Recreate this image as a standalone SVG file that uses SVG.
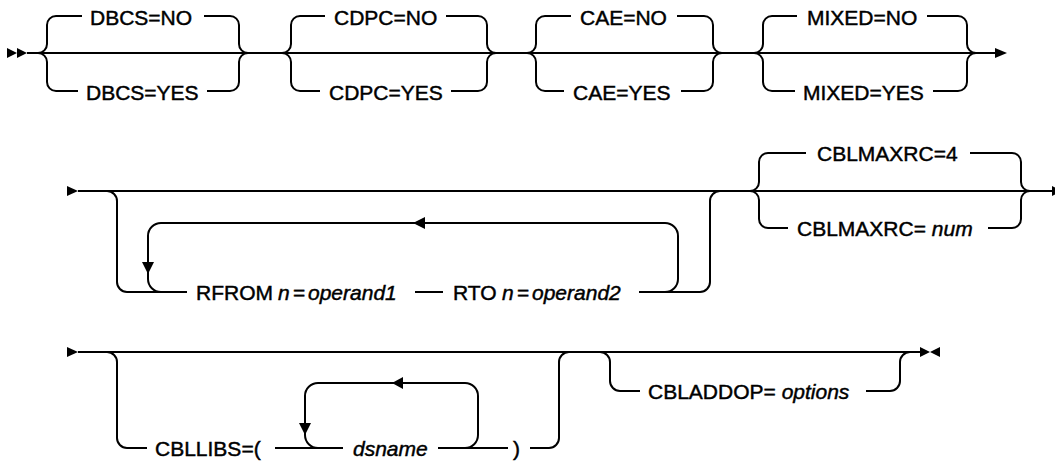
<svg xmlns="http://www.w3.org/2000/svg" width="1055" height="468" viewBox="0 0 1055 468">
<style>
.l{fill:none;stroke:#000;stroke-width:2}
.a{fill:#000;stroke:none}
text{font-family:"Liberation Sans",Arial,Helvetica,sans-serif;font-size:21px;fill:#000;stroke:#000;stroke-width:0.45}
.i{font-style:italic}
</style>
<rect width="1055" height="468" fill="#fff"/>
<g id="connectors">
  <!-- Row 1 -->
  <polygon class="a" points="7,48 17,53 7,58"/>
  <polygon class="a" points="17,48 27,53 17,58"/>
  <path class="l" d="M27 53 H995"/>
  <polygon class="a" points="995,48 1007,53 995,58"/>
  <!-- DBCS brace L=38 R=248 -->
  <path class="l" d="M38 53 A9 9 0 0 0 47 44 V25 A9 9 0 0 1 56 16 H82 M204 16 H230 A9 9 0 0 1 239 25 V44 A9 9 0 0 0 248 53"/>
  <path class="l" d="M38 53 A9 9 0 0 1 47 62 V82 A9 9 0 0 0 56 91 H78 M207 91 H230 A9 9 0 0 0 239 82 V62 A9 9 0 0 1 248 53"/>
  <!-- CDPC brace L=282 R=496 -->
  <path class="l" d="M282 53 A9 9 0 0 0 291 44 V25 A9 9 0 0 1 300 16 H325 M446 16 H478 A9 9 0 0 1 487 25 V44 A9 9 0 0 0 496 53"/>
  <path class="l" d="M282 53 A9 9 0 0 1 291 62 V82 A9 9 0 0 0 300 91 H320 M451 91 H478 A9 9 0 0 0 487 82 V62 A9 9 0 0 1 496 53"/>
  <!-- CAE brace L=527 R=722 -->
  <path class="l" d="M527 53 A9 9 0 0 0 536 44 V25 A9 9 0 0 1 545 16 H571 M677 16 H704 A9 9 0 0 1 713 25 V44 A9 9 0 0 0 722 53"/>
  <path class="l" d="M527 53 A9 9 0 0 1 536 62 V82 A9 9 0 0 0 545 91 H564 M681 91 H704 A9 9 0 0 0 713 82 V62 A9 9 0 0 1 722 53"/>
  <!-- MIXED brace L=754 R=976 -->
  <path class="l" d="M754 53 A9 9 0 0 0 763 44 V25 A9 9 0 0 1 772 16 H797 M927 16 H958 A9 9 0 0 1 967 25 V44 A9 9 0 0 0 976 53"/>
  <path class="l" d="M754 53 A9 9 0 0 1 763 62 V82 A9 9 0 0 0 772 91 H795 M933 91 H958 A9 9 0 0 0 967 82 V62 A9 9 0 0 1 976 53"/>

  <!-- Row 2 -->
  <polygon class="a" points="67,186 78,191 67,196"/>
  <path class="l" d="M78 191 H1052"/>
  <polygon class="a" points="1052,186 1062,191 1052,196"/>
  <path class="l" d="M107 191 A10 10 0 0 1 117 201 V282 A10 10 0 0 0 127 292 H187 M415 292 H443 M639 292 H700 A10 10 0 0 0 710 282 V201 A10 10 0 0 1 720 191"/>
  <path class="l" d="M665 292 A13 13 0 0 0 678 279 V236 A13 13 0 0 0 665 223 H161 A13 13 0 0 0 148 236 V279 A13 13 0 0 0 161 292"/>
  <polygon class="a" points="413,223 425,217 425,229"/>
  <polygon class="a" points="142,262 154,262 148,274"/>
  <!-- CBLMAXRC brace L=750 R=1030 -->
  <path class="l" d="M750 191 A9 9 0 0 0 759 182 V162 A9 9 0 0 1 768 153 H806 M970 153 H1012 A9 9 0 0 1 1021 162 V182 A9 9 0 0 0 1030 191"/>
  <path class="l" d="M750 191 A9 9 0 0 1 759 200 V219 A9 9 0 0 0 768 228 H788 M988 228 H1012 A9 9 0 0 0 1021 219 V200 A9 9 0 0 1 1030 191"/>

  <!-- Row 3 -->
  <polygon class="a" points="67,347 78,352 67,357"/>
  <path class="l" d="M78 352 H920"/>
  <polygon class="a" points="920,347 930,352 920,357"/>
  <polygon class="a" points="940,347 930,352 940,357"/>
  <path class="l" d="M107 352 A10 10 0 0 1 117 362 V438 A10 10 0 0 0 127 448 H147 M275 448 H343 M438 448 H508 M530 448 H549 A10 10 0 0 0 559 438 V362 A10 10 0 0 1 569 352"/>
  <path class="l" d="M465 448 A13 13 0 0 0 478 435 V396 A13 13 0 0 0 465 383 H318 A13 13 0 0 0 305 396 V435 A13 13 0 0 0 318 448"/>
  <polygon class="a" points="392,383 403,377 403,389"/>
  <polygon class="a" points="299,423 311,423 305,435"/>
  <path class="l" d="M600 352 A10 10 0 0 1 610 362 V381 A10 10 0 0 0 620 391 H640 M866 391 H890 A10 10 0 0 0 900 381 V362 A10 10 0 0 1 910 352"/>
</g>
<g id="dbcs-no"><text x="90" y="24.5">DBCS=NO</text></g>
<g id="dbcs-yes"><text x="86" y="99.5">DBCS=YES</text></g>
<g id="cdpc-no"><text x="334" y="24.5">CDPC=NO</text></g>
<g id="cdpc-yes"><text x="329" y="99.5">CDPC=YES</text></g>
<g id="cae-no"><text x="580" y="24.5">CAE=NO</text></g>
<g id="cae-yes"><text x="573" y="99.5">CAE=YES</text></g>
<g id="mixed-no"><text x="807" y="24.5">MIXED=NO</text></g>
<g id="mixed-yes"><text x="803" y="99.5">MIXED=YES</text></g>
<g id="rfrom"><text y="300"><tspan x="196">RFROM</tspan><tspan x="278" class="i">n</tspan><tspan x="293">=</tspan><tspan x="308" class="i">operand1</tspan></text></g>
<g id="rto"><text y="300"><tspan x="453">RTO</tspan><tspan x="502" class="i">n</tspan><tspan x="517">=</tspan><tspan x="532" class="i">operand2</tspan></text></g>
<g id="cblmaxrc-4"><text x="817" y="161">CBLMAXRC=4</text></g>
<g id="cblmaxrc-num"><text x="797" y="236">CBLMAXRC= <tspan class="i">num</tspan></text></g>
<g id="cbllibs"><text x="155" y="456">CBLLIBS=(</text></g>
<g id="dsname"><text x="353" y="456" class="i">dsname</text></g>
<g id="close-paren"><text x="513" y="456">)</text></g>
<g id="cbladdop"><text x="648" y="399">CBLADDOP= <tspan class="i">options</tspan></text></g>
</svg>
